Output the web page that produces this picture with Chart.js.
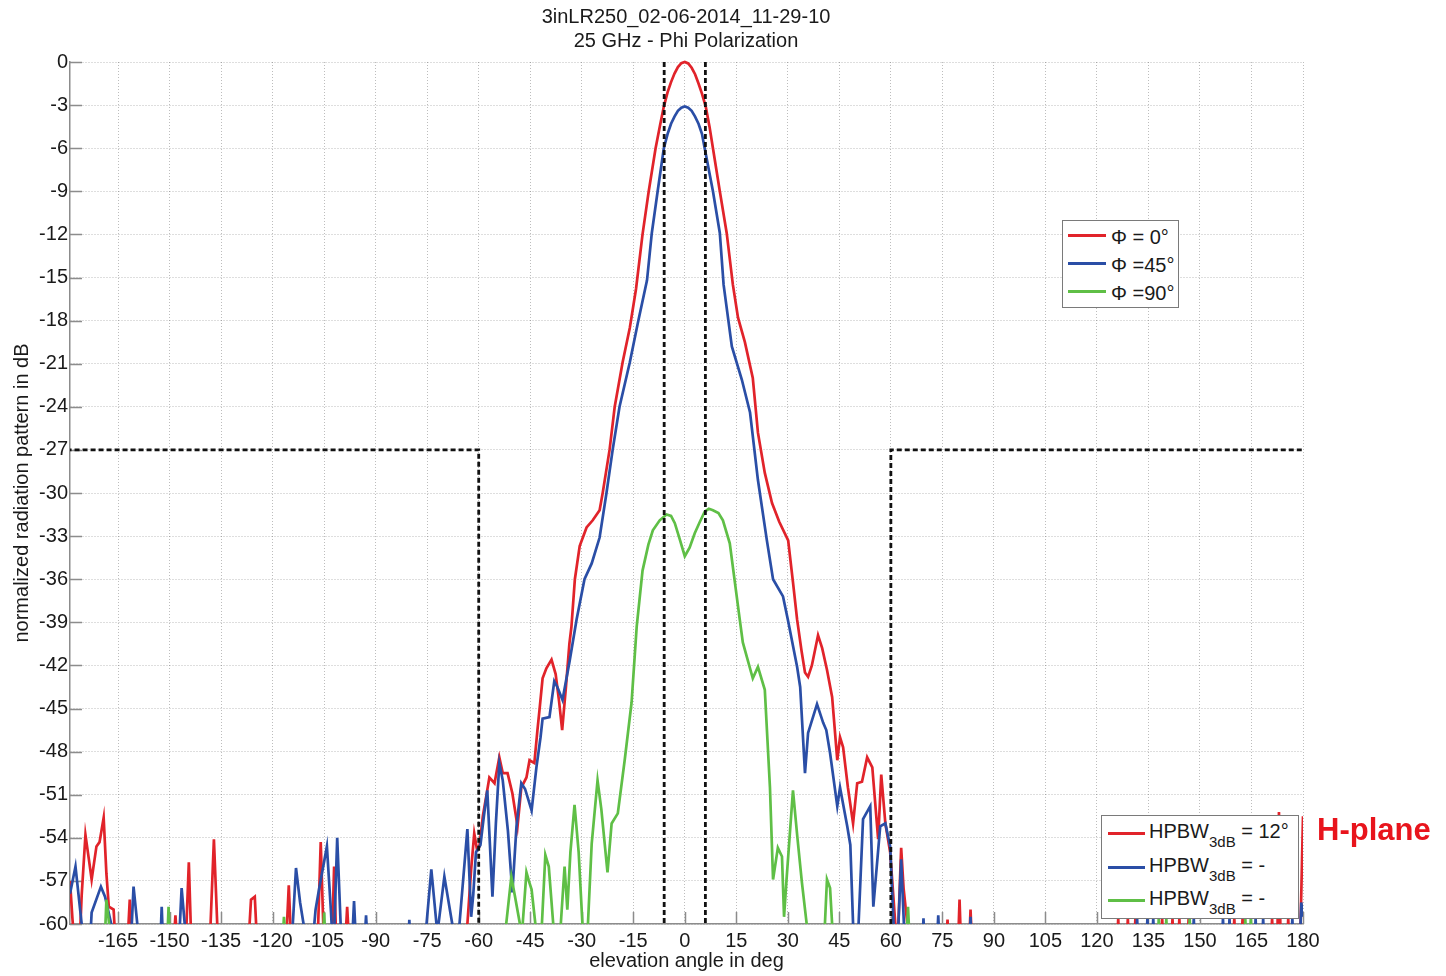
<!DOCTYPE html>
<html>
<head>
<meta charset="utf-8">
<script src="https://cdn.jsdelivr.net/npm/chart.js@4.4.1/dist/chart.umd.min.js"></script>
<style>
  html, body { margin: 0; padding: 0; background: #fff; }
  #wrap { position: relative; width: 1446px; height: 976px; }
  #pattern { position: absolute; left: 0; top: 0; }
  .txt { position: absolute; font-family: 'Liberation Sans', Arial, sans-serif; font-size: 20px;
         line-height: 20px; white-space: nowrap; color: #1a1a1a; }
  .title { left: 686px; transform: translateX(-50%); }
  .box { position: absolute; box-sizing: border-box; border: 1px solid #7a7a7a; background: #fff; }
  .ln { position: absolute; height: 2.5px; }
  .sub { font-size: 15px; position: relative; top: 9px; }
  .hplane { font-weight: bold; font-size: 31px; line-height: 31px; color: #e8141c; }
</style>
</head>
<body>
<div id="wrap">
  <canvas id="pattern" width="1446" height="976"></canvas>

  <div class="txt title" style="top:6px">3inLR250_02-06-2014_11-29-10</div>
  <div class="txt title" style="top:30px">25 GHz - Phi Polarization</div>

  <div class="box" style="left:1062px;top:220px;width:117px;height:88px"></div>
  <div class="ln" style="left:1068px;top:234px;width:38px;background:#e1232a"></div>
  <div class="ln" style="left:1068px;top:262px;width:38px;background:#2a4ea6"></div>
  <div class="ln" style="left:1068px;top:290px;width:38px;background:#5fbf46"></div>
  <div class="txt" style="left:1111px;top:227px">Φ = 0°</div>
  <div class="txt" style="left:1111px;top:255px">Φ =45°</div>
  <div class="txt" style="left:1111px;top:283px">Φ =90°</div>

  <div class="box" style="left:1101px;top:815px;width:198px;height:104px"></div>
  <div class="ln" style="left:1108px;top:832px;width:37px;background:#e1232a"></div>
  <div class="ln" style="left:1108px;top:866px;width:37px;background:#2a4ea6"></div>
  <div class="ln" style="left:1108px;top:899px;width:37px;background:#5fbf46"></div>
  <div class="txt" style="left:1149px;top:821px">HPBW<span class="sub">3dB</span> = 12°</div>
  <div class="txt" style="left:1149px;top:855px">HPBW<span class="sub">3dB</span> = -</div>
  <div class="txt" style="left:1149px;top:888px">HPBW<span class="sub">3dB</span> = -</div>

  <div class="txt hplane" style="left:1317px;top:814px">H-plane</div>
</div>

<script>
// tick labels
var xTicks = [-165, -150, -135, -120, -105, -90, -75, -60, -45, -30, -15, 0,
              15, 30, 45, 60, 75, 90, 105, 120, 135, 150, 165, 180];
var yTicks = [-60, -57, -54, -51, -48, -45, -42, -39, -36, -33, -30, -27,
              -24, -21, -18, -15, -12, -9, -6, -3, 0];

// [elevation angle in deg, level in dB]; -62 = below the -60 dB floor
var phi0 = [
  [-179,-57],[-178.3,-59.6],[-177.5,-62],[-176.3,-62],[-175.6,-58],[-174.5,-53.8],[-173.5,-55.5],
  [-172.7,-56.9],[-171.3,-54.6],[-170.4,-54.3],[-169.2,-52.6],[-168.4,-56.5],[-167.7,-58.8],
  [-166.3,-59],[-165.6,-62],
  [-162.4,-62],[-161.6,-58.3],[-160.9,-62],
  [-149,-62],[-148.3,-59.4],[-147.6,-62],
  [-145.4,-62],[-144.4,-55.7],[-143.6,-62],
  [-138.4,-62],[-137.1,-54.1],[-135.8,-62],
  [-127.2,-62],[-126.3,-58.3],[-125.2,-58.1],[-124.4,-62],
  [-116.2,-62],[-115.3,-57.3],[-114.5,-62],
  [-107,-62],[-106,-54.3],[-105,-62],
  [-102.8,-62],[-102.1,-56],[-101.4,-62],
  [-99,-62],[-98.3,-58.8],[-97.6,-62],
  [-64.2,-62],[-63.3,-60],[-62.2,-56.2],[-61.3,-53.7],[-60.5,-54.8],[-59.8,-54.6],[-58.8,-52.5],
  [-57.8,-51.1],[-56.9,-49.8],[-55.4,-50.2],[-54,-48.4],[-53,-49.5],[-51.6,-49.5],[-50.2,-50.9],
  [-48.7,-53.2],[-47.6,-50.5],[-46.1,-49.8],[-45.2,-48.6],[-43.8,-48.8],[-42.9,-46.5],[-42.3,-45.1],
  [-41.4,-42.9],[-40.3,-42.2],[-38.8,-41.6],[-37.6,-42.6],[-36.6,-44.5],[-35.7,-46.5],[-34.6,-43.5],
  [-33.6,-40.5],[-33,-39.3],[-32,-36],[-30.6,-33.7],[-28.6,-32.4],[-26.8,-31.9],[-24.8,-31.2],
  [-23.9,-30],[-21.9,-27],[-20.4,-24],[-18.1,-20.9],[-16,-18.5],[-14.2,-15.8],[-12.3,-12],
  [-10.5,-9],[-8.5,-6],[-7.2,-4.4],[-6.1,-3.1],[-5,-2.1],[-4,-1.4],[-3,-0.8],[-2,-0.35],[-1,-0.08],
  [0,0],[1,-0.1],[2,-0.4],[3,-0.85],[4,-1.5],[5,-2.2],[6.1,-3.1],[7.2,-4.5],
  [8.2,-6],[10.2,-9],[12.2,-11.9],[14,-15.5],[15.5,-17.8],[17.5,-19.5],[19.8,-22],[21.3,-25.8],
  [23.3,-28.6],[25.4,-30.7],[27.5,-32],[30.1,-33.3],[31.5,-36.2],[32.7,-38.8],[34,-41],[35,-42.5],
  [35.9,-42.8],[37,-42],[38.8,-39.9],[40,-40.8],[41.4,-42.3],[42.9,-44.2],[44.4,-48.6],[45.2,-47],
  [46.1,-47.7],[47.5,-50.5],[49,-53],[50.2,-50.2],[51.6,-50.1],[53.1,-48.4],[54.6,-49.1],
  [56.3,-54.1],[57.2,-49.6],[58.4,-53],[59.8,-55],[61.3,-60],[61.8,-62],[62.2,-60],[63,-54.7],
  [63.7,-57.5],[64.8,-60],[65.3,-62],
  [76,-62],[76.5,-59.7],[77,-62],
  [79.5,-62],[80,-58.3],[80.5,-62],
  [82.7,-62],[83.2,-59],[83.7,-62],
  [125.8,-62],[126.2,-59.6],[126.6,-62],[128.6,-62],[129,-59.6],[129.4,-62],[130.8,-62],[131.2,-59.6],
  [131.6,-62],[138.6,-62],[139,-59.6],[139.4,-62],[141.6,-62],[142,-59.6],[142.4,-62],[143.6,-62],
  [144,-59.6],[144.4,-62],[146.3,-62],[146.7,-59.6],[147.1,-62],[159.6,-62],[160,-59.6],[160.4,-62],
  [162,-62],[162.4,-59.6],[162.8,-62],[170.6,-62],[171,-59.6],[171.4,-62],
  [172.5,-62],[173,-52.2],[173.5,-62],
  [175.3,-62],[175.7,-59.6],[176.1,-62],
  [179,-62],[179.3,-60],[180,-52.5]
];

var phi45 = [
  [-179,-57.9],[-177.4,-56],[-175.6,-60],[-175.2,-62],[-173.3,-62],[-172.7,-59.2],[-170,-57.4],
  [-168.8,-58.1],[-167,-60],[-166.6,-62],
  [-161.4,-62],[-160.5,-57.4],[-159.4,-60],[-159,-62],
  [-152.8,-62],[-152.3,-58.8],[-151.8,-62],
  [-147.4,-62],[-146.5,-57.5],[-145.6,-60],[-145.2,-62],
  [-114.6,-62],[-113.2,-56.1],[-112,-58.5],[-111,-60],[-110.6,-62],
  [-108.6,-62],[-107.5,-59],[-106.5,-57.6],[-104.2,-54.6],[-103,-59.2],[-102.4,-62],[-102,-60],
  [-101.2,-54],[-100.2,-60],[-99.8,-62],
  [-97,-62],[-96.3,-58.4],[-95.6,-62],
  [-93.4,-62],[-92.8,-59.4],[-92.2,-62],
  [-80.6,-62],[-80.2,-59.7],[-79.8,-62],
  [-75.6,-62],[-75.2,-60],[-73.8,-56.2],[-72.3,-60],[-72,-62],[-71.7,-60],[-70,-56.7],
  [-67.7,-60],[-67.3,-62],
  [-66,-62],[-65.6,-60],[-63.3,-53.4],[-62.2,-59.5],[-61.6,-58],[-60.8,-55],[-59.5,-54.5],
  [-58.5,-52.5],[-57.5,-50.7],[-56,-58.1],[-55,-53],[-54,-48.8],[-53,-50],[-51.5,-53.5],
  [-50.2,-57.8],[-49,-53.2],[-47.6,-50.2],[-46.5,-50.6],[-44.6,-52.1],[-43.2,-49.1],[-42,-47],
  [-41.4,-45.7],[-39.4,-45.6],[-38,-43.1],[-37.1,-43.5],[-35.6,-44.4],[-33.6,-41.8],[-31.5,-38.8],
  [-29.2,-36],[-27.1,-34.9],[-24.8,-33.1],[-22.8,-30],[-21,-27],[-19,-24],[-16,-20.9],
  [-13.7,-18.2],[-11,-15.2],[-9.6,-11.9],[-7.9,-9],[-6.1,-6],[-5,-5],[-4,-4.3],[-3,-3.8],
  [-2,-3.4],[-1,-3.18],[0,-3.1],[1,-3.18],[2,-3.4],[3,-3.8],[4,-4.3],[5,-5],
  [5.8,-6],[8.2,-9],[10.2,-11.9],[11.3,-15.5],[13.7,-19.8],[16.6,-22.1],
  [19,-24.4],[21.3,-29.1],[23.9,-33.3],[25.7,-36],[28.6,-37.2],[30,-38.8],[32.7,-42.1],
  [33.6,-43.5],[35,-49.5],[35.9,-46.7],[38.5,-44.7],[40.3,-46],[41.2,-46.5],[42.3,-48.1],
  [44.4,-51.8],[45.2,-50.5],[47.3,-53.2],[48.2,-54.5],[49,-60],[49.3,-62],[50.3,-62],[50.6,-60],
  [51.9,-52.7],[54,-51.8],[54.9,-58.8],[56.9,-53.2],[58.4,-53],[59.8,-54.6],[60.8,-60],[61.2,-62],
  [62.2,-60],[63,-55.5],[63.8,-60],[64.2,-62],
  [69.1,-62],[69.5,-59.6],[69.9,-62],
  [73.3,-62],[73.8,-59.4],[74.3,-62],
  [82.8,-62],[83.2,-59.5],[83.6,-62],
  [131.3,-62],[131.7,-59.6],[132.1,-62],[134.3,-62],[134.7,-59.6],[135.1,-62],[136,-62],[136.4,-59.6],
  [136.8,-62],[147.8,-62],[148.2,-59.6],[148.6,-62],[156.3,-62],[156.7,-59.6],[157.1,-62],[158.2,-62],
  [158.6,-59.6],[159,-62],[165.8,-62],[166.2,-59.6],[166.6,-62],[168,-62],[168.4,-59.6],[168.8,-62],
  [176.5,-62],[176.9,-59.6],[177.3,-62],
  [179,-62],[179.5,-58.5],[180,-59.5]
];

var phi90 = [
  [-169,-62],[-168.4,-58.3],[-167.6,-60],[-167,-62],
  [-150.8,-62],[-150.3,-58.8],[-149.8,-62],
  [-117.3,-62],[-116.7,-59.5],[-116,-62],
  [-105.5,-62],[-105,-59.2],[-104.5,-62],
  [-52.5,-62],[-52,-60],[-50.5,-56.7],[-49.5,-58],[-48,-60],[-47.7,-62],[-47.2,-60],[-46.1,-56.4],
  [-45.4,-57],[-44.6,-57.6],[-43.5,-60],[-43.2,-62],[-42,-62],[-41.6,-60],[-40.6,-55.2],
  [-39.6,-56],[-38.3,-60],[-38,-62],[-36.5,-62],[-36.1,-60],[-35,-56],[-34.2,-59],[-33.3,-55],
  [-32.1,-51.7],[-30.9,-55],[-29.8,-60],[-29.5,-62],[-28.5,-62],[-28.2,-60],[-27.1,-54.4],
  [-25.4,-50],[-24.3,-52],[-22.5,-56.4],[-21.3,-53],[-19.5,-52.3],[-17.5,-48.6],[-15.5,-44.6],
  [-14,-39.3],[-12.3,-35.4],[-10.6,-33.6],[-9.3,-32.6],[-7.3,-31.9],[-5.3,-31.5],[-4,-31.6],
  [-2.9,-32.1],[-1.5,-33.2],[0,-34.4],[1.4,-33.8],[2.9,-32.8],[4.4,-32],[5.8,-31.3],[7,-31.1],
  [8.2,-31.2],[9.8,-31.4],[11.1,-31.9],[13.1,-33.5],[16,-38.8],[16.9,-40.4],
  [19.8,-42.9],[21.3,-42.1],[23.3,-43.7],[24.8,-50.5],[25.7,-56.9],[27.1,-54.7],[28.3,-55.3],
  [28.9,-59.5],[29.6,-57],[31.5,-50.7],[32.8,-54],[34.1,-57.1],[35.5,-60],[36,-62],
  [40.5,-62],[40.8,-60],[41.4,-56.9],[42.3,-57.5],[42.9,-60],[43.2,-62],
  [64.4,-62],[65,-58.8],[65.6,-62],
  [137.6,-62],[138,-59.6],[138.4,-62],[139.8,-62],[140.2,-59.6],[140.6,-62],[146.6,-62],[147,-59.6],
  [147.4,-62],[162.8,-62],[163.2,-59.6],[163.6,-62],[164.4,-62],[164.8,-59.6],[165.2,-62]
];

// mask limits
var maskLeft = [[-180,-27],[-60,-27],[-60,-60]];
var maskRight = [[60,-60],[60,-27],[180,-27]];
var beamLeft = [[-6,0],[-6,-60]];
var beamRight = [[6,0],[6,-60]];

var FONT = "'Liberation Sans', Arial, sans-serif";
var CLIP = { left: 0, top: 3, right: 0, bottom: 0 };

function curve(data, color) {
  return { data: data, borderColor: color, borderWidth: 2.7, showLine: true,
           pointRadius: 0, fill: false, tension: 0, clip: CLIP };
}
function mask(data) {
  return { data: data, borderColor: '#111', borderWidth: 2.8, borderDash: [5, 3],
           showLine: true, pointRadius: 0, fill: false, clip: CLIP };
}

// MATLAB style tick marks pointing into the plot
var insideTicks = {
  id: 'insideTicks',
  beforeDatasetsDraw: function (chart) {
    var c = chart.ctx, a = chart.chartArea, sx = chart.scales.x, sy = chart.scales.y;
    c.save();
    c.strokeStyle = '#8c8c8c';
    c.lineWidth = 1.5;
    c.beginPath();
    xTicks.forEach(function (v) {
      var px = Math.round(sx.getPixelForValue(v)) + 0.5;
      c.moveTo(px, a.bottom); c.lineTo(px, a.bottom - 12);
    });
    yTicks.forEach(function (v) {
      var py = Math.round(sy.getPixelForValue(v)) + 0.5;
      c.moveTo(a.left, py); c.lineTo(a.left + 12, py);
    });
    c.stroke();
    c.restore();
  }
};

new Chart(document.getElementById('pattern'), {
  type: 'scatter',
  data: {
    datasets: [
      mask(maskLeft), mask(maskRight), mask(beamLeft), mask(beamRight),
      curve(phi90, '#5fbf46'),
      curve(phi45, '#2a4ea6'),
      curve(phi0, '#e1232a')
    ]
  },
  options: {
    responsive: false,
    animation: false,
    devicePixelRatio: 1,
    events: [],
    layout: { padding: { top: 62, right: 143, bottom: 0, left: 0 } },
    plugins: { legend: { display: false }, tooltip: { enabled: false } },
    scales: {
      x: {
        type: 'linear', min: -179, max: 180,
        afterFit: function (s) { s.height = 52; },
        afterBuildTicks: function (s) { s.ticks = xTicks.map(function (v) { return { value: v }; }); },
        ticks: { autoSkip: false, maxRotation: 0, padding: 5, color: '#1a1a1a',
                 font: { family: FONT, size: 20 },
                 callback: function (v) { return String(v); } },
        grid: { color: 'rgba(0,0,0,0.26)', lineWidth: 1, drawTicks: false },
        border: { display: true, color: '#8c8c8c', width: 1.5, dash: [1, 2] },
        title: { display: true, text: 'elevation angle in deg', color: '#1a1a1a',
                 font: { family: FONT, size: 20 }, padding: { top: 0, bottom: 3 } }
      },
      y: {
        type: 'linear', min: -60, max: 0,
        afterFit: function (s) { s.width = 70; },
        afterBuildTicks: function (s) { s.ticks = yTicks.map(function (v) { return { value: v }; }); },
        ticks: { autoSkip: false, padding: 2, color: '#1a1a1a',
                 font: { family: FONT, size: 20 },
                 callback: function (v) { return String(v); } },
        grid: { color: 'rgba(0,0,0,0.26)', lineWidth: 1, drawTicks: false },
        border: { display: true, color: '#8c8c8c', width: 1.5, dash: [1, 2] },
        title: { display: true, text: 'normalized radiation pattern in dB', color: '#1a1a1a',
                 font: { family: FONT, size: 20 }, padding: { top: 10, bottom: 0 } }
      }
    }
  },
  plugins: [insideTicks]
});
</script>
</body>
</html>
